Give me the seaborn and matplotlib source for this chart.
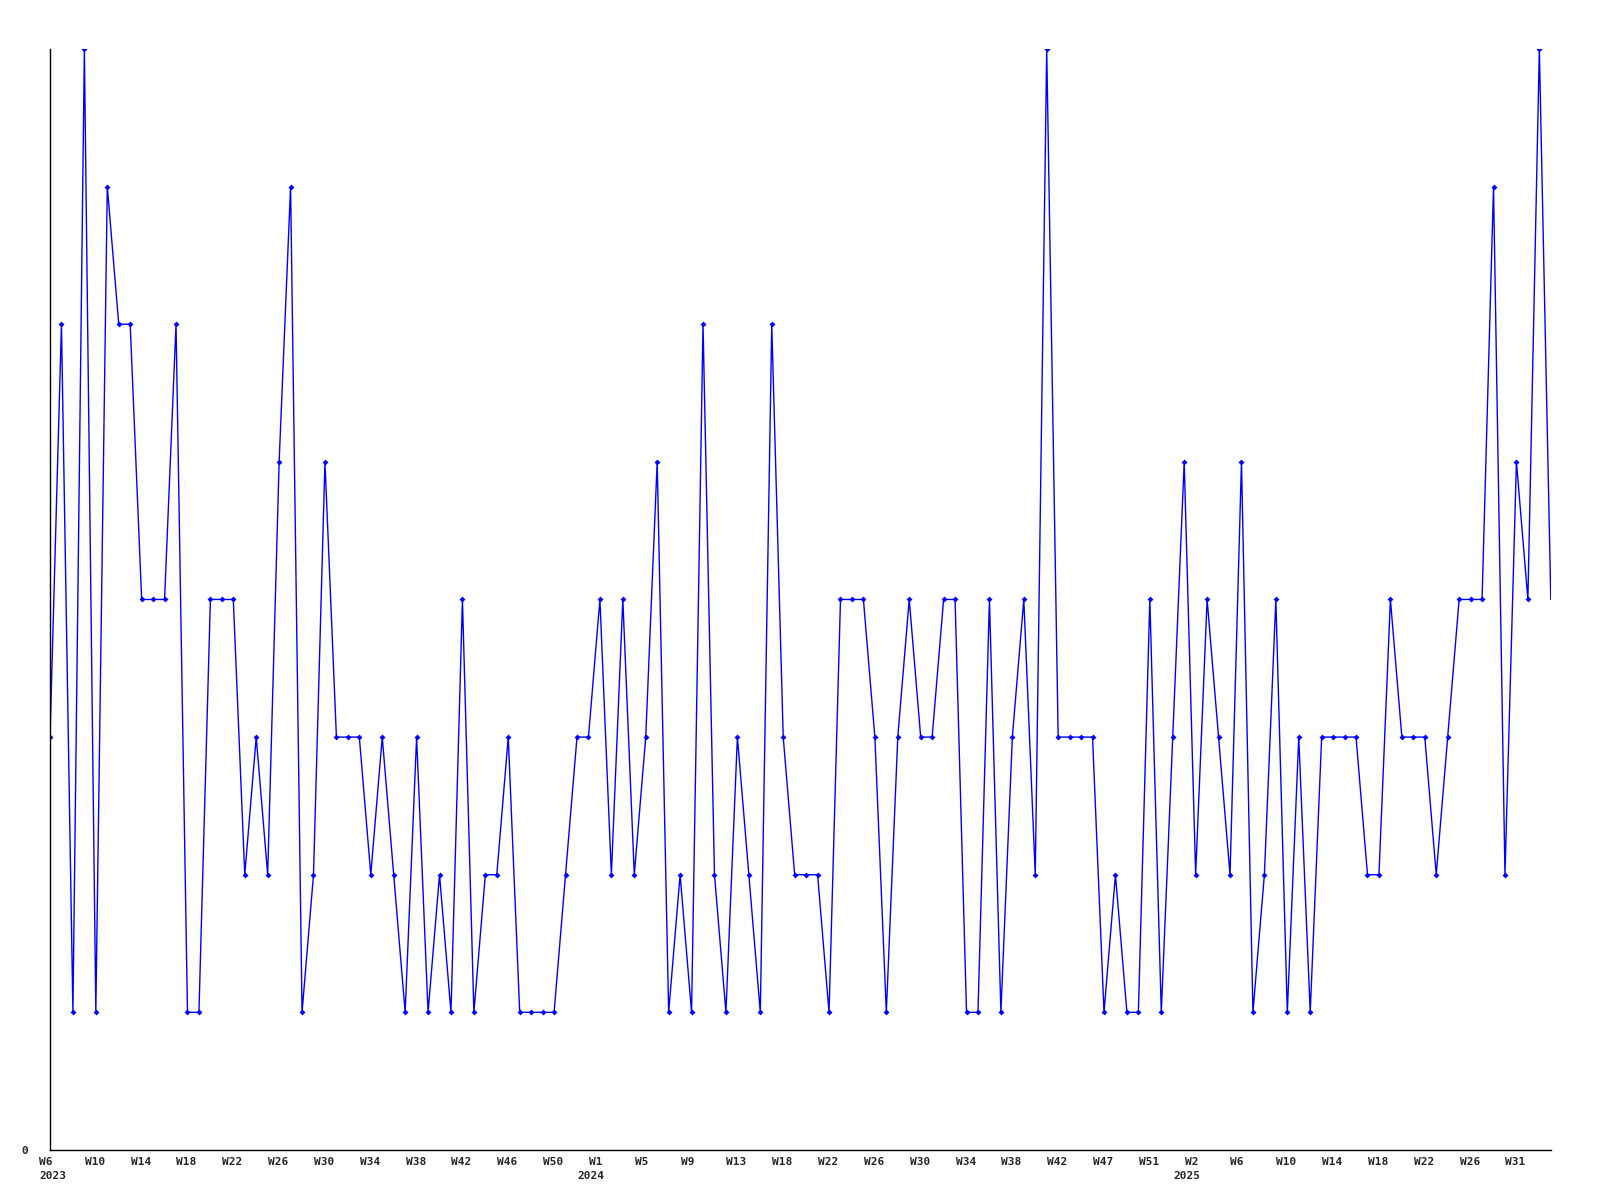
import matplotlib
matplotlib.use("Agg")
import matplotlib.pyplot as plt
import matplotlib.transforms as mtransforms
import seaborn as sns
import pandas as pd

# Weekly counts, 2023 W6 .. 2025 W33 (one value per ISO week)
counts = [
    3, 6, 1, 8, 1, 7, 6, 6, 4, 4, 4, 6, 1, 1, 4, 4, 4, 2, 3, 2,
    5, 7, 1, 2, 5, 3, 3, 3, 2, 3, 2, 1, 3, 1, 2, 1, 4, 1, 2, 2,
    3, 1, 1, 1, 1, 2, 3, 3, 4, 2, 4, 2, 3, 5, 1, 2, 1, 6, 2, 1,
    3, 2, 1, 6, 3, 2, 2, 2, 1, 4, 4, 4, 3, 1, 3, 4, 3, 3, 4, 4,
    1, 1, 4, 1, 3, 4, 2, 8, 3, 3, 3, 3, 1, 2, 1, 1, 4, 1, 3, 5,
    2, 4, 3, 2, 5, 1, 2, 4, 1, 3, 1, 3, 3, 3, 3, 2, 2, 4, 3, 3,
    3, 2, 3, 4, 4, 4, 7, 2, 5, 4, 8, 4,
]

# Year spans covered by the series (year, first week, last week)
year_spans = [(2023, 6, 52), (2024, 1, 52), (2025, 1, 33)]

# Week labels printed under every 4th point
tick_labels = [
    "W6", "W10", "W14", "W18", "W22", "W26", "W30", "W34", "W38", "W42",
    "W46", "W50", "W1", "W5", "W9", "W13", "W18", "W22", "W26", "W30",
    "W34", "W38", "W42", "W47", "W51", "W2", "W6", "W10", "W14", "W18",
    "W22", "W26", "W31",
]
year_labels = [(2023, 6), (2024, 1), (2025, 1)]

# Build the week sequence and data frame
weeks = [(y, w) for y, w0, w1 in year_spans for w in range(w0, w1 + 1)]
df = pd.DataFrame({"idx": range(len(weeks)), "count": counts})

sns.set_style("white")
plt.rcParams["font.family"] = ["DejaVu Sans Mono"]

fig = plt.figure(figsize=(16, 12), dpi=100)
ax = fig.add_axes([0.03125, 0.0417, 0.938, 0.9175])

sns.lineplot(
    data=df, x="idx", y="count", ax=ax,
    color="#0000ff", linewidth=1.0,
    marker="D", markersize=3, markeredgewidth=0,
    markevery=list(range(len(df) - 1)),  # last (partial) week has no marker
)

ax.set_xlim(0, len(df) - 1)
ax.set_ylim(0, 8)

ax.tick_params(axis="x", length=0, pad=5)
ax.tick_params(axis="y", length=0, pad=16)

# x ticks every 4 weeks, labels left-aligned a little left of the tick
ax.set_xticks(list(range(0, len(df), 4)))
ax.set_xticklabels(tick_labels, fontsize=8, fontweight="bold")
shift = mtransforms.ScaledTranslation(-11 / 100, 0, fig.dpi_scale_trans)
for tick in ax.xaxis.get_major_ticks():
    tick.label1.set_horizontalalignment("left")
    tick.label1.set_transform(tick.label1.get_transform() + shift)

ax.set_yticks([0])
ax.set_yticklabels(["0"], fontsize=8, fontweight="bold")

# year labels under the week labels
trans = mtransforms.blended_transform_factory(ax.transData, ax.transAxes) + shift
for y, w in year_labels:
    ax.text(weeks.index((y, w)), -0.024, str(y), transform=trans,
            ha="left", va="center", fontsize=8, fontweight="bold")

ax.set_xlabel("")
ax.set_ylabel("")
for side in ["top", "right"]:
    ax.spines[side].set_visible(False)
for side in ["left", "bottom"]:
    ax.spines[side].set_color("black")
    ax.spines[side].set_linewidth(1.0)

fig.savefig("out.png", dpi=100, facecolor="white")
